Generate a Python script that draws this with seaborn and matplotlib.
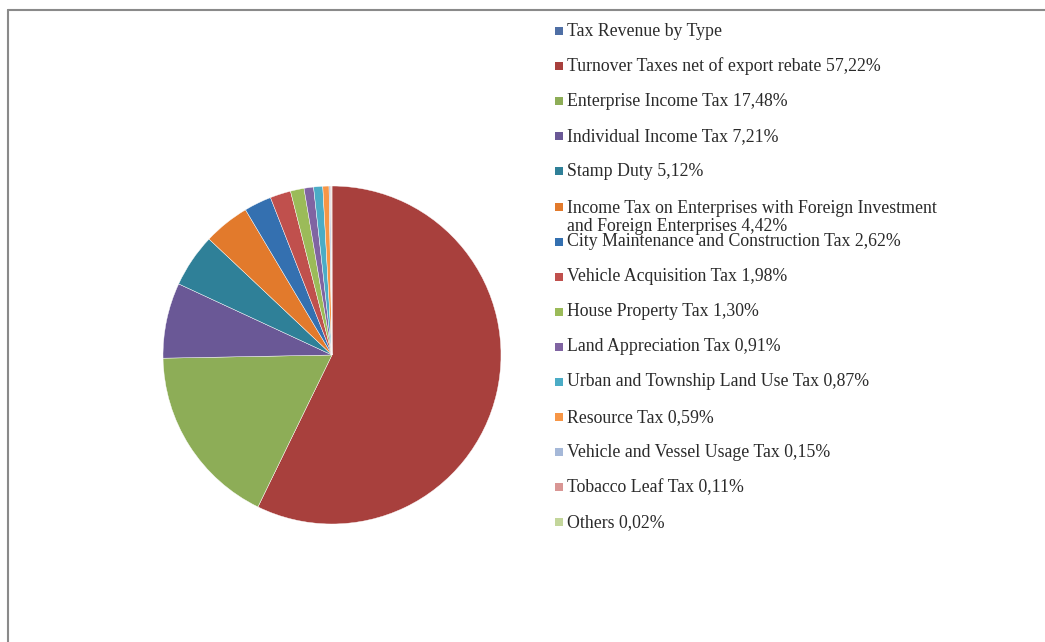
import matplotlib
matplotlib.use("Agg")
import matplotlib.pyplot as plt
from matplotlib.patches import Rectangle
from matplotlib.lines import Line2D
import seaborn as sns

# ---- data ----
categories = [
    "Tax Revenue by Type",
    "Turnover Taxes net of export rebate",
    "Enterprise Income Tax",
    "Individual Income Tax",
    "Stamp Duty",
    "Income Tax on Enterprises with Foreign Investment\nand Foreign Enterprises",
    "City Maintenance and Construction Tax",
    "Vehicle Acquisition Tax",
    "House Property Tax",
    "Land Appreciation Tax",
    "Urban and Township Land Use Tax",
    "Resource Tax",
    "Vehicle and Vessel Usage Tax",
    "Tobacco Leaf Tax",
    "Others",
]
shares = [None, 57.22, 17.48, 7.21, 5.12, 4.42, 2.62, 1.98, 1.30, 0.91, 0.87, 0.59, 0.15, 0.11, 0.02]
value_labels = ["", "57,22%", "17,48%", "7,21%", "5,12%", "4,42%", "2,62%", "1,98%", "1,30%",
                "0,91%", "0,87%", "0,59%", "0,15%", "0,11%", "0,02%"]

colors = ["#4F6FA5", "#A8403D", "#8DAD57", "#6A5896", "#2F8098", "#E27A2C", "#3470B0",
          "#C0504D", "#9BBB59", "#8064A2", "#4BACC6", "#F79646", "#A5B8D8", "#D99694", "#C3D69B"]

sns.set_theme(style="white")
plt.rcParams["font.family"] = ["Liberation Serif", "DejaVu Serif"]

W, H = 1045, 642
fig = plt.figure(figsize=(W / 100, H / 100), dpi=100)
fig.patch.set_facecolor("white")

# frame lines (top and left)
fig.add_artist(Line2D([8 / W, 1.0], [1 - 10 / H, 1 - 10 / H], color="#8a8a8a", lw=1.5))
fig.add_artist(Line2D([8 / W, 8 / W], [0, 1 - 10 / H], color="#8a8a8a", lw=1.5))

# pie
cx, cy, r = 332, 355, 169
ax = fig.add_axes([(cx - r) / W, (H - cy - r) / H, 2 * r / W, 2 * r / H])
vals = [v for v in shares[1:]]
ax.pie(vals, colors=colors[1:], startangle=90, counterclock=False, radius=1,
       wedgeprops=dict(edgecolor="white", linewidth=0.3))
ax.set_xlim(-1.0, 1.0)
ax.set_ylim(-1.0, 1.0)
ax.set_aspect("equal")
ax.axis("off")

# legend (Excel-style, fixed pitch)
x_sw, x_tx = 555, 567
y0, pitch = 31, 35.1
fs = 12.8
for i, (cat, lab, col) in enumerate(zip(categories, value_labels, colors)):
    y = y0 + i * pitch
    text = cat + (" " + lab if lab else "")
    fig.add_artist(Rectangle((x_sw / W, 1 - (y + 4) / H), 8 / W, 8 / H,
                             transform=fig.transFigure, facecolor=col, edgecolor="none"))
    if "\n" in cat:
        fig.text(x_tx / W, 1 - (y - 7) / H, text, ha="left", va="top", fontsize=fs,
                 color="#2a2a2a", linespacing=1.12)
    else:
        fig.text(x_tx / W, 1 - y / H, text, ha="left", va="center", fontsize=fs, color="#2a2a2a")

fig.savefig("out.png", dpi=100, facecolor="white")
